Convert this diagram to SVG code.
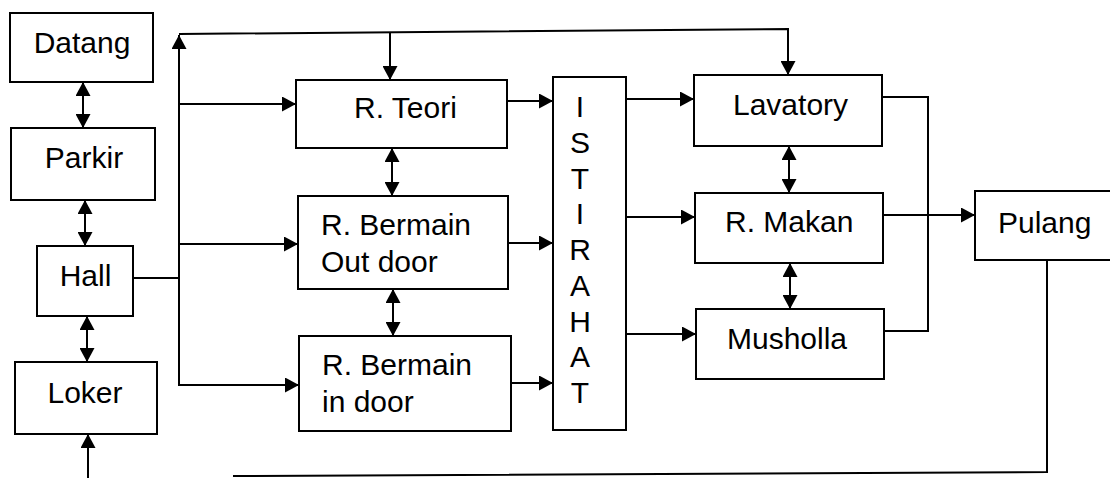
<svg xmlns="http://www.w3.org/2000/svg" width="1110" height="478" viewBox="0 0 1110 478">
<style>
.box{fill:#fff;stroke:#000;stroke-width:2}
.t{font-family:"Liberation Sans",Arial,sans-serif;font-size:30px;fill:#000}
.c{text-anchor:middle}
.ln{fill:none;stroke:#000;stroke-width:2}
.a{marker-end:url(#ah)}
.d{marker-start:url(#ah);marker-end:url(#ah)}
</style>
<defs>
<marker id="ah" markerUnits="userSpaceOnUse" markerWidth="15" markerHeight="15" refX="14" refY="7.5" orient="auto-start-reverse">
<path d="M0,0 L14,7.5 L0,15 z" fill="#000"/>
</marker>
</defs>
<rect width="1110" height="478" fill="#fff"/>
<g id="connectors">
<line class="ln d" x1="83" y1="82" x2="83" y2="128"/>
<line class="ln d" x1="85" y1="200" x2="85" y2="246"/>
<line class="ln d" x1="87" y1="316" x2="87" y2="362"/>
<line class="ln a" x1="88" y1="478" x2="88" y2="434"/>
<polyline class="ln" points="1047,260 1047,472 233,476"/>
<line class="ln" x1="133" y1="278" x2="179" y2="278"/>
<line class="ln a" x1="179" y1="386" x2="179" y2="35"/>
<polyline class="ln a" points="179,34 788,29 788,75"/>
<line class="ln a" x1="390" y1="32" x2="390" y2="80"/>
<line class="ln a" x1="179" y1="104" x2="296" y2="104"/>
<line class="ln a" x1="179" y1="244" x2="298" y2="244"/>
<line class="ln a" x1="179" y1="385" x2="299" y2="385"/>
<line class="ln d" x1="392" y1="148" x2="392" y2="196"/>
<line class="ln d" x1="393" y1="289" x2="393" y2="336"/>
<line class="ln a" x1="507" y1="101" x2="553" y2="101"/>
<line class="ln a" x1="508" y1="243" x2="553" y2="243"/>
<line class="ln a" x1="511" y1="383" x2="553" y2="383"/>
<line class="ln a" x1="626" y1="99" x2="694" y2="99"/>
<line class="ln a" x1="626" y1="217" x2="695" y2="217"/>
<line class="ln a" x1="626" y1="334" x2="696" y2="334"/>
<line class="ln d" x1="789" y1="146" x2="789" y2="193"/>
<line class="ln d" x1="790" y1="263" x2="790" y2="309"/>
<polyline class="ln" points="882,97 928,97 928,331 884,331"/>
<line class="ln a" x1="883" y1="215" x2="975" y2="215"/>
</g>
<g id="datang"><rect class="box" x="10" y="13" width="143" height="69"/><text class="t c" x="82" y="53">Datang</text></g>
<g id="parkir"><rect class="box" x="11" y="128" width="144" height="72"/><text class="t c" x="84" y="168">Parkir</text></g>
<g id="hall"><rect class="box" x="37" y="246" width="96" height="70"/><text class="t c" x="85.5" y="286">Hall</text></g>
<g id="loker"><rect class="box" x="15" y="362" width="142" height="72"/><text class="t c" x="85" y="403">Loker</text></g>
<g id="r-teori"><rect class="box" x="296" y="80" width="211" height="68"/><text class="t" x="354" y="118">R. Teori</text></g>
<g id="r-bermain-outdoor"><rect class="box" x="298" y="196" width="210" height="93"/><text class="t" x="321" y="235">R. Bermain</text><text class="t" x="321" y="272">Out door</text></g>
<g id="r-bermain-indoor"><rect class="box" x="299" y="336" width="212" height="95"/><text class="t" x="322" y="375">R. Bermain</text><text class="t" x="322" y="412">in door</text></g>
<g id="istirahat"><rect class="box" x="553" y="77" width="73" height="353"/>
<text class="t c" x="580" y="117">I</text>
<text class="t c" x="580" y="153">S</text>
<text class="t c" x="580" y="189">T</text>
<text class="t c" x="580" y="224">I</text>
<text class="t c" x="580" y="260">R</text>
<text class="t c" x="580" y="296">A</text>
<text class="t c" x="580" y="332">H</text>
<text class="t c" x="580" y="367">A</text>
<text class="t c" x="580" y="403">T</text>
</g>
<g id="lavatory"><rect class="box" x="694" y="75" width="188" height="71"/><text class="t" x="733" y="115">Lavatory</text></g>
<g id="r-makan"><rect class="box" x="695" y="193" width="188" height="70"/><text class="t" x="725" y="232">R. Makan</text></g>
<g id="musholla"><rect class="box" x="696" y="309" width="188" height="70"/><text class="t" x="727" y="349">Musholla</text></g>
<g id="pulang"><rect class="box" x="975" y="191" width="145" height="69"/><text class="t" x="998" y="233">Pulang</text></g>
</svg>
